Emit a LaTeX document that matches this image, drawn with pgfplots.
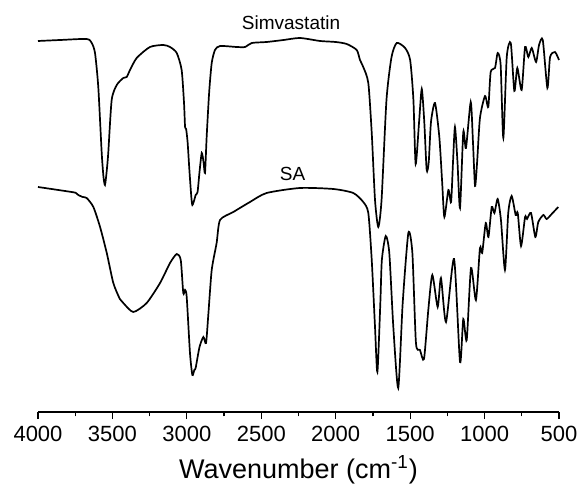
\documentclass[border=0pt]{standalone}
\usepackage{fontspec}
\setmainfont{Liberation Sans}
\usepackage{pgfplots}
\pgfplotsset{compat=1.18}

\begin{document}
\begin{tikzpicture}
\path[use as bounding box] (0,0) rectangle (290.5pt,243pt);
\begin{axis}[
  at={(19pt,37pt)}, anchor=south west,
  scale only axis, width=260.5pt, height=206pt,
  xmin=500, xmax=4000, ymin=0, ymax=412,
  x dir=reverse,
  axis x line*=bottom, axis y line=none,
  axis line style={line width=0.65pt},
  xtick={500,1000,...,4000}, minor x tick num=1,
  tick align=outside,
  major tick length=3.5pt, minor tick length=2.2pt,
  every tick/.style={black, line width=0.6pt},
  /pgf/number format/1000 sep={},
  /pgf/number format/assume math mode=true,
  tick label style={font=\fontsize{11}{13}\selectfont},
  xlabel={Wavenumber (cm\textsuperscript{-1})},
  xlabel style={font=\fontsize{13.5}{16}\selectfont, at={(axis description cs:0.5,0)}, anchor=center, yshift=-29pt},
  clip=false,
]
% Simvastatin
\addplot[black, line width=0.85pt, smooth, tension=0.4] coordinates {
  (4000,371)(3850,372)(3673,373)(3639,369)(3617,359)(3595,325)(3572,259)
  (3560,235)(3550,227)(3539,240)(3528,259)(3505,312)(3471,327)(3427,334)
  (3404,335)(3382,342)(3337,354)(3248,365)(3158,367)(3113,365)(3068,359)
  (3035,342)(3019,309)(3012,285)(3005,283)(2995,270)(2983,242)(2970,215)
  (2963,207)(2950,212)(2941,217)(2928,220)(2915,240)(2900,259)(2888,250)
  (2878,239)(2867,275)(2850,320)(2833,349)(2811,362)(2777,366)(2665,365)
  (2609,365)(2564,369)(2464,370)(2350,372)(2240,374)(2105,371)(2000,370)
  (1926,368)(1859,362)(1837,352)(1815,345)(1781,329)(1758,279)(1736,212)
  (1714,185)(1692,212)(1659,312)(1625,355)(1590,369)(1534,364)(1500,352)
  (1478,312)(1463,248)(1440,290)(1422,323)(1405,290)(1389,242)(1375,250)
  (1360,290)(1333,309)(1304,275)(1285,230)(1270,195)(1243,222)(1225,210)
  (1212,250)(1199,285)(1182,250)(1165,204)(1143,280)(1125,264)(1093,310)
  (1078,270)(1064,226)(1050,250)(1031,294)(997,316)(975,305)(959,340)
  (930,344)(912,359)(892,347)(874,274)(851,355)(824,369)(800,321)
  (780,344)(751,322)(728,365)(706,355)(683,364)(654,350)(634,367)
  (609,372)(578,324)(560,355)(527,360)(500,352)
};
% SA
\addplot[black, line width=0.85pt, smooth, tension=0.4] coordinates {
  (4000,225)(3774,220)(3745,219)(3729,217)(3700,215)(3673,214)(3628,205)
  (3583,185)(3538,159)(3494,129)(3450,113)(3427,109)(3360,100)(3270,109)
  (3180,129)(3113,149)(3068,158)(3041,152)(3024,119)(3012,122)(3001,115)
  (2979,59)(2963,37)(2950,42)(2941,44)(2915,65)(2889,75)(2871,69)
  (2855,99)(2833,142)(2800,169)(2777,192)(2688,200)(2576,210)(2464,219)
  (2240,224)(2016,223)(1882,219)(1815,210)(1781,199)(1758,152)(1736,85)
  (1720,40)(1700,110)(1690,152)(1664,176)(1640,159)(1613,85)(1580,24)
  (1550,109)(1512,179)(1485,159)(1461,69)(1434,62)(1407,53)(1378,102)
  (1351,137)(1315,105)(1293,134)(1259,90)(1205,153)(1165,50)(1143,93)
  (1120,72)(1091,144)(1058,112)(1031,164)(1016,159)(992,189)(974,175)
  (952,205)(934,199)(912,213)(890,192)(863,142)(841,199)(818,216)
  (791,197)(777,199)(755,166)(728,195)(715,193)(688,199)(659,175)
  (639,190)(605,197)(583,193)(549,198)(505,205)
};
\node[font=\fontsize{9.5}{11}\selectfont] at (axis cs:2300,389) {Simvastatin};
\node[font=\fontsize{9.5}{11}\selectfont] at (axis cs:2290,238) {SA};
\end{axis}
\end{tikzpicture}
\end{document}
